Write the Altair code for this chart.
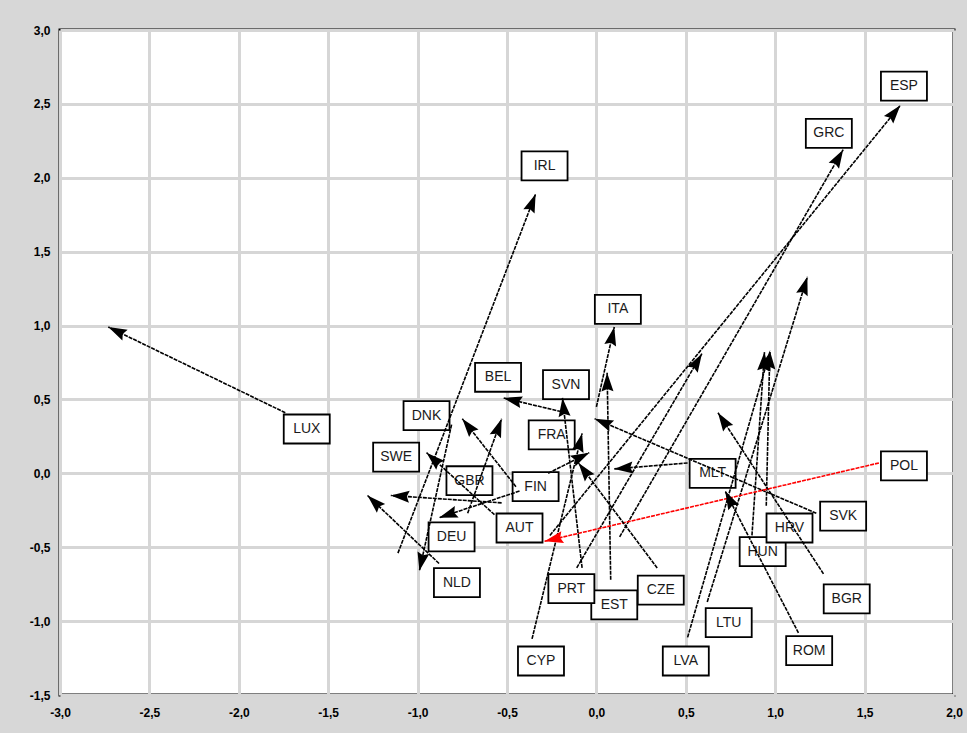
import math
import altair as alt
import pandas as pd

# Country trajectories: start point -> end point on the two factor axes
countries = ["LUX", "IRL", "ESP", "GRC", "ITA", "EST", "NLD", "DNK", "AUT", "FIN",
             "DEU", "GBR", "SWE", "CYP", "SVK", "MLT", "BGR", "ROM", "LTU", "LVA",
             "HUN", "HRV", "PRT", "POL", "CZE", "BEL", "SVN", "FRA"]
x_start = [-1.74, -1.11, -0.26, 0.13, 0.00, 0.08, -0.88, -0.81, -0.57, -0.45,
           -0.72, -0.53, -0.43, -0.36, 1.23, 0.51, 1.27, 1.13, 0.62, 0.51,
           0.87, 0.95, -0.11, 1.58, 0.34, -0.17, -0.08, -0.27]
y_start = [0.41, -0.54, -0.42, -0.43, 0.45, -0.72, -0.61, 0.33, -0.28, -0.09,
           -0.27, -0.20, -0.12, -1.12, -0.27, 0.07, -0.68, -1.08, -0.87, -1.11,
           -0.42, -0.22, -0.64, 0.07, -0.64, 0.41, -0.64, 0.00]
x_end = [-2.73, -0.34, 1.70, 1.38, 0.10, 0.06, -1.28, -0.99, -0.95, -0.75,
         -0.53, -1.15, -0.88, -0.08, -0.01, 0.10, 0.68, 0.72, 1.18, 0.97,
         0.94, 0.97, 0.59, -0.29, -0.10, -0.52, -0.19, -0.04]
y_end = [0.99, 1.89, 2.49, 2.19, 0.99, 0.68, -0.15, -0.66, 0.14, 0.37,
         0.37, -0.15, -0.30, 0.27, 0.37, 0.03, 0.41, -0.12, 1.33, 0.82,
         0.82, 0.83, 0.81, -0.46, 0.07, 0.51, 0.51, 0.14]
label_x = [-1.62, -0.29, 1.72, 1.30, 0.12, 0.10, -0.78, -0.95, -0.43, -0.34,
           -0.81, -0.71, -1.12, -0.31, 1.38, 0.65, 1.40, 1.19, 0.74, 0.50,
           0.93, 1.08, -0.14, 1.72, 0.36, -0.55, -0.17, -0.25]
label_y = [0.30, 2.08, 2.62, 2.30, 1.11, -0.89, -0.74, 0.39, -0.37, -0.09,
           -0.43, -0.05, 0.11, -1.27, -0.29, 0.00, -0.85, -1.20, -1.01, -1.27,
           -0.53, -0.37, -0.78, 0.05, -0.79, 0.65, 0.60, 0.26]
highlight = ["POL"]

x_ticks = [-3.0, -2.5, -2.0, -1.5, -1.0, -0.5, 0.0, 0.5, 1.0, 1.5, 2.0]
y_ticks = [-1.5, -1.0, -0.5, 0.0, 0.5, 1.0, 1.5, 2.0, 2.5, 3.0]

W, H = 894, 665
X_DOM, Y_DOM = [-3.0, 2.0], [-1.5, 3.0]
px_per_x = W / (X_DOM[1] - X_DOM[0])
px_per_y = H / (Y_DOM[1] - Y_DOM[0])

df = pd.DataFrame({
    "country": countries,
    "x0": x_start, "y0": y_start,
    "x1": x_end, "y1": y_end,
    "lx": label_x, "ly": label_y,
})
df["group"] = ["highlight" if c in highlight else "other" for c in countries]


def heading(row):
    dx = (row.x1 - row.x0) * px_per_x
    dy = -(row.y1 - row.y0) * px_per_y
    return math.degrees(math.atan2(dx, -dy)) % 360


df["angle"] = df.apply(heading, axis=1)

num_label = ("datum.value < 0 ? '-' + replace(format(abs(datum.value), '.1f'), '.', ',')"
             " : replace(format(datum.value, '.1f'), '.', ',')")

xs = alt.Scale(domain=X_DOM, nice=False, zero=False)
ys = alt.Scale(domain=Y_DOM, nice=False, zero=False)
col = alt.Color("group:N", scale=alt.Scale(domain=["highlight", "other"],
                                           range=["#ff0000", "#000000"]), legend=None)

axis_common = dict(title=None, grid=True, gridColor="#d6d6d6", gridWidth=3,
                   domain=False, ticks=False, labelExpr=num_label,
                   labelFont="Liberation Sans Narrow, Liberation Sans",
                   labelFontSize=12, labelFontWeight="bold",
                   labelColor="#000000", labelFlush=False)
x_axis = alt.Axis(values=x_ticks, labelPadding=12, **axis_common)
y_axis = alt.Axis(values=y_ticks, labelPadding=10, **axis_common)

base = alt.Chart(df)

BOX = "M-1,-0.63L1,-0.63L1,0.63L-1,0.63Z"
ARROW = "M0,0L0.42,1.3L0,1.12L-0.42,1.3Z"

boxes = base.mark_point(shape=BOX, filled=True, fill="white", stroke="black",
                        strokeWidth=1.8, size=2116, opacity=1).encode(
    x=alt.X("lx:Q", scale=xs, axis=x_axis),
    y=alt.Y("ly:Q", scale=ys, axis=y_axis),
)

labels = base.mark_text(font="Liberation Sans", fontSize=14, color="#1a1a1a").encode(
    x=alt.X("lx:Q", scale=xs),
    y=alt.Y("ly:Q", scale=ys),
    text="country:N",
)

paths = base.mark_rule(strokeWidth=1.6, strokeDash=[4, 1]).encode(
    x=alt.X("x0:Q", scale=xs),
    y=alt.Y("y0:Q", scale=ys),
    x2="x1:Q",
    y2="y1:Q",
    color=col,
)

heads = base.mark_point(shape=ARROW, filled=True, size=820, opacity=1,
                        strokeWidth=0).encode(
    x=alt.X("x1:Q", scale=xs),
    y=alt.Y("y1:Q", scale=ys),
    angle=alt.Angle("angle:Q", scale=None),
    color=col,
)

chart = alt.layer(boxes, labels, paths, heads).properties(
    width=W, height=H,
    autosize=alt.AutoSizeParams(type="none"),
    padding={"left": 60, "top": 30, "right": 13, "bottom": 38},
    background="#d7d7d7",
).configure_view(
    fill="white", stroke="black", strokeWidth=3,
)

chart.save("out.html", embed_options={"renderer": "svg", "actions": False})
